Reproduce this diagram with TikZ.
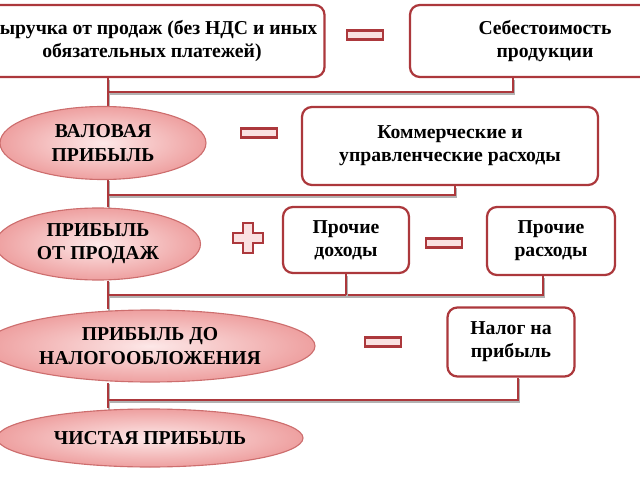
\documentclass[tikz,border=0pt]{standalone}
\usepackage{fontspec}
\setmainfont{Liberation Serif}
\usepackage{tikz}
\newcommand{\px}{0.025cm}
\definecolor{boxRed}{RGB}{172,56,60}
\definecolor{ovalRed}{RGB}{205,110,110}
\definecolor{ovalIn}{RGB}{253,232,232}
\definecolor{ovalOut}{RGB}{238,160,160}
\definecolor{signFill}{RGB}{250,225,225}
\usetikzlibrary{calc,positioning,shapes.geometric}
\pgfdeclarelayer{bg}
\pgfsetlayers{bg,main}
\tikzset{
  font=\fontsize{14}{16.5}\selectfont\bfseries,
  box/.style={draw=boxRed,fill=white,line width=1.6pt,rounded corners=7pt,align=center,inner sep=0pt},
  oval/.style={ellipse,draw=ovalRed,line width=0.8pt,inner color=ovalIn,outer color=ovalOut,align=center,inner sep=0pt},
  minus/.style={draw=boxRed,fill=signFill,line width=1.6pt,minimum width=36*\px,minimum height=9*\px,inner sep=0pt},
  sign/.style={draw=boxRed,fill=signFill,line width=1.6pt},
  link/.style={draw=boxRed,line width=1.8pt,preaction={draw=gray!60,line width=1.8pt,transform canvas={xshift=0.8pt,yshift=-1pt}}},
}

\begin{document}
\begin{tikzpicture}[x=\px,y=-\px]
  \useasboundingbox (0,0) rectangle (640,480);
  % rows of the scheme
  \node (rev) [box,minimum width=345*\px,minimum height=72*\px] at (152,41) {Выручка от продаж (без НДС и иных\\обязательных платежей)};
  \node (m1) [minus] at (365,35) {};
  \node (cost) [box,minimum width=270*\px,minimum height=72*\px] at (545,41) {Себестоимость\\продукции};

  \node (gross) [oval,minimum width=206*\px,minimum height=73*\px] at (103,143) {ВАЛОВАЯ\\ПРИБЫЛЬ};
  \node (m2) [minus] at (259,133) {};
  \node (sga) [box,minimum width=296*\px,minimum height=78*\px] at (450,146) {Коммерческие и\\управленческие расходы};

  \node (sales) [oval,minimum width=205*\px,minimum height=72*\px] at (98,244) {ПРИБЫЛЬ\\ОТ ПРОДАЖ};
  \draw [sign,shift={(248,238)}] (-5,-15) -- (5,-15) -- (5,-5) -- (15,-5) -- (15,5) -- (5,5) -- (5,15) -- (-5,15) -- (-5,5) -- (-15,5) -- (-15,-5) -- (-5,-5) -- cycle;
  \node (oinc) [box,minimum width=126*\px,minimum height=66*\px] at (346,240) {Прочие\\доходы};
  \node (m3) [minus] at (444,243) {};
  \node (oexp) [box,minimum width=128*\px,minimum height=68*\px] at (551,241) {Прочие\\расходы};

  \node (ebt) [oval,minimum width=330*\px,minimum height=72*\px] at (150,346) {ПРИБЫЛЬ ДО\\НАЛОГООБЛОЖЕНИЯ};
  \node (m4) [minus] at (383,342) {};
  \node (tax) [box,minimum width=127*\px,minimum height=69*\px] at (511,342) {Налог на\\прибыль};

  \node (net) [oval,minimum width=306*\px,minimum height=58*\px] at (150,438) {ЧИСТАЯ ПРИБЫЛЬ};

  % connectors
  \coordinate (j1) at (108,92);
  \coordinate (j2) at (108,195);
  \coordinate (j3) at (108,295);
  \coordinate (j4) at (108,400);
  \begin{pgfonlayer}{bg}
    \path [link] (rev.south -| j1) -- (gross.north -| j1);
    \path [link] (j1) -| ([xshift=-32*\px]cost.south);
    \path [link] (gross.south -| j2) -- (sales.north -| j2);
    \path [link] (j2) -| ([xshift=5*\px]sga.south);
    \path [link] (sales.south -| j3) -- (ebt.north -| j3);
    \path [link] (j3) -| ([xshift=-8*\px]oexp.south);
    \path [link] (oinc.south) -- (oinc.south |- j3);
    \path [link] (ebt.south -| j4) -- (net.north -| j4);
    \path [link] (j4) -| ([xshift=7*\px]tax.south);
  \end{pgfonlayer}
\end{tikzpicture}
\end{document}
